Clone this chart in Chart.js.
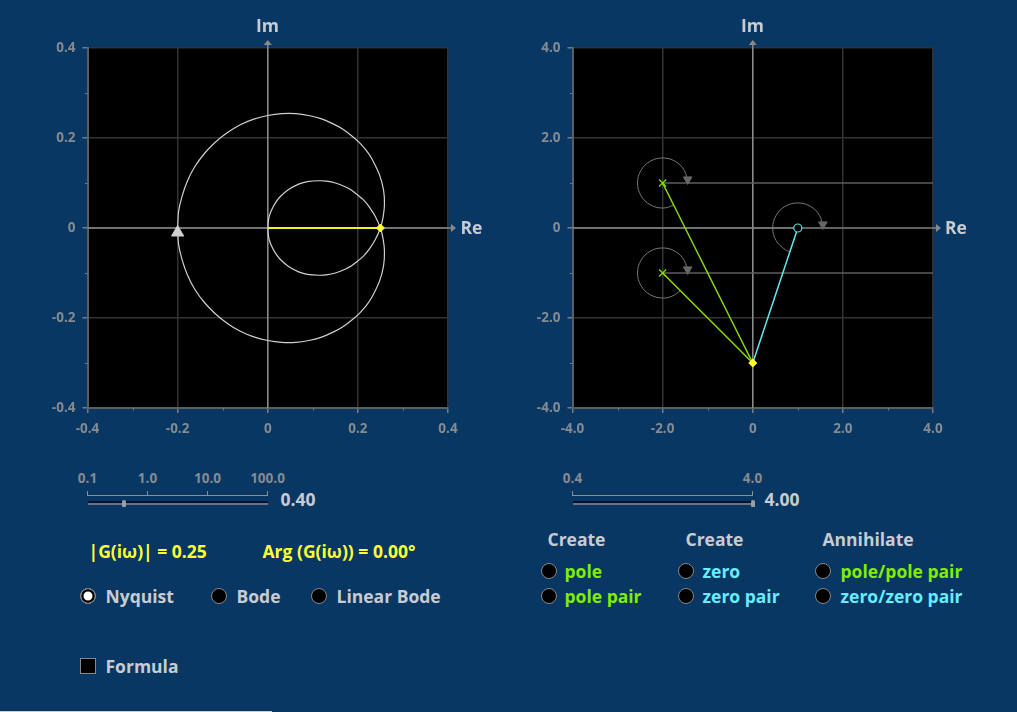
<!DOCTYPE html>
<html><head><meta charset="utf-8">
<script src="https://cdn.jsdelivr.net/npm/chart.js@4/dist/chart.umd.min.js"></script>
<style>
html,body{margin:0;padding:0;width:1017px;height:712px;overflow:hidden;background:#083763;font-family:"Open Sans",sans-serif;font-weight:700}
.t{position:absolute;white-space:nowrap;line-height:1;transform:translateY(-50%)}
.c{transform:translate(-50%,-50%)}
.lab{font-size:17.5px;color:#c8ccd2}
.sm{font-size:13.5px;color:#868b92}
.val{font-size:17.5px;color:#c8ccd2}
.yl{font-size:17.5px;color:#ffff33}
.gr{color:#80ee00}.cy{color:#66eeff}
.box{position:absolute}
.radio{position:absolute;width:14px;height:14px;margin:-8px 0 0 -8px;border:1px solid #888;border-radius:50%;background:#000}
.radio.on{background:#fff;box-shadow:inset 0 0 0 2.5px #000}
canvas{position:absolute}
</style></head><body>
<canvas id="left" style="left:40px;top:20px;width:440px;height:420px" width="440" height="420"></canvas>
<canvas id="right" style="left:525px;top:20px;width:440px;height:420px" width="440" height="420"></canvas>
<div id="ui"></div>
<script>
const nyquistUpper=[[-0.2,0],[-0.198,0.036],[-0.19,0.071],[-0.178,0.105],[-0.162,0.136],[-0.141,0.165],[-0.117,0.19],[-0.091,0.211],[-0.062,0.229],[-0.031,0.242],[0,0.25],[0.031,0.254],[0.062,0.254],[0.091,0.25],[0.118,0.243],[0.144,0.232],[0.166,0.22],[0.186,0.205],[0.204,0.189],[0.219,0.172],[0.231,0.154],[0.248,0.118],[0.257,0.084],[0.259,0.052],[0.256,0.024],[0.25,0],[0.239,-0.025],[0.226,-0.046],[0.213,-0.062],[0.199,-0.074],[0.186,-0.084],[0.173,-0.091],[0.15,-0.1],[0.13,-0.104],[0.114,-0.105],[0.088,-0.103],[0.07,-0.098],[0.047,-0.086],[0.028,-0.07],[0.017,-0.056],[0.008,-0.039],[0.003,-0.025],[0.001,-0.012],[0,0]];
const nyquistLower=[[-0.2,0],[-0.198,-0.036],[-0.19,-0.071],[-0.178,-0.105],[-0.162,-0.136],[-0.141,-0.165],[-0.117,-0.19],[-0.091,-0.211],[-0.062,-0.229],[-0.031,-0.242],[0,-0.25],[0.031,-0.254],[0.062,-0.254],[0.091,-0.25],[0.118,-0.243],[0.144,-0.232],[0.166,-0.22],[0.186,-0.205],[0.204,-0.189],[0.219,-0.172],[0.231,-0.154],[0.248,-0.118],[0.257,-0.084],[0.259,-0.052],[0.256,-0.024],[0.25,0],[0.239,0.025],[0.226,0.046],[0.213,0.062],[0.199,0.074],[0.186,0.084],[0.173,0.091],[0.15,0.1],[0.13,0.104],[0.114,0.105],[0.088,0.103],[0.07,0.098],[0.047,0.086],[0.028,0.07],[0.017,0.056],[0.008,0.039],[0.003,0.025],[0.001,0.012],[0,0]];
const gainSegment=[[0,0],[0.25,0]];
const startArrow=[[-0.2,-0.01]];
const currentLeft=[[0.25,0]];
const poles=[[-2,1],[-2,-1]];
const zeros=[[1,0]];
const currentRight=[[0,-3]];
const poleLine1=[[-2,1],[0,-3]];
const poleLine2=[[-2,-1],[0,-3]];
const zeroLine=[[1,0],[0,-3]];
const poleRef1=[[-2,1],[4,1]];
const poleRef2=[[-2,-1],[4,-1]];
const zeroRef=[[1,0],[4,0]];
const poleArc1=[[-1.748,0.505],[-2,0.444],[-2.278,0.518],[-2.482,0.722],[-2.556,1],[-2.482,1.278],[-2.278,1.482],[-2,1.556],[-1.722,1.482],[-1.518,1.278],[-1.444,1]];
const poleArc2=[[-1.607,-1.393],[-1.783,-1.512],[-2,-1.556],[-2.278,-1.482],[-2.482,-1.278],[-2.556,-1],[-2.482,-0.722],[-2.278,-0.518],[-2,-0.444],[-1.722,-0.518],[-1.518,-0.722],[-1.444,-1]];
const zeroArc=[[0.824,-0.527],[0.722,-0.482],[0.518,-0.278],[0.444,0],[0.518,0.278],[0.722,0.482],[1,0.556],[1.278,0.482],[1.482,0.278],[1.556,0]];
const arcHeads=[[-1.444,1.08],[-1.444,-0.92],[1.556,0.08]];
const leftAxisTicks=[-0.4,-0.2,0,0.2,0.4];
const leftMinorTicks=[-0.3,-0.1,0.1,0.3];
const rightAxisTicks=[-4,-2,0,2,4];
const rightMinorTicks=[-3,-1,1,3];
const freqTicks=["0.1","1.0","10.0","100.0"];
const zoomTicks=["0.4","4.0"];

const pts=a=>a.map(p=>({x:p[0],y:p[1]}));
const line=(d,color,width,tension)=>({type:'scatter',data:pts(d),showLine:true,borderColor:color,borderWidth:width,pointRadius:0,tension:tension||0,fill:false});
const marker=(d,style,r,fill,stroke,rot,bw)=>({type:'scatter',data:pts(d),showLine:false,pointStyle:style,pointRadius:r,pointBackgroundColor:fill,pointBorderColor:stroke,pointBorderWidth:bw||1,pointRotation:rot||0});

const axisDecor={id:'axisDecor',
 beforeDraw(ch){const c=ch.ctx,A=ch.chartArea;c.save();c.fillStyle='#000';c.fillRect(A.left,A.top,A.right-A.left,A.bottom-A.top);c.restore();},
 beforeDatasetsDraw(ch,a,o){const c=ch.ctx,{x,y}=ch.scales,A=ch.chartArea;c.save();
  c.strokeStyle='#777c82';c.lineWidth=1;
  o.minor.forEach(v=>{const py=Math.round(y.getPixelForValue(v))+.5,px=Math.round(x.getPixelForValue(v))+.5;
   c.beginPath();c.moveTo(A.left-2.5,py);c.lineTo(A.left,py);c.moveTo(px,A.bottom);c.lineTo(px,A.bottom+2.5);c.stroke();});
  const x0=x.getPixelForValue(0),y0=y.getPixelForValue(0);
  c.strokeStyle='#8a8a8a';c.lineWidth=1.5;
  c.beginPath();c.moveTo(x0,A.bottom);c.lineTo(x0,A.top-3);c.moveTo(A.left,y0);c.lineTo(A.right+4,y0);c.stroke();
  c.fillStyle='#8a8a8a';
  c.beginPath();c.moveTo(x0,A.top-8);c.lineTo(x0-4,A.top-3);c.lineTo(x0+4,A.top-3);c.closePath();c.fill();
  c.beginPath();c.moveTo(A.right+8,y0);c.lineTo(A.right+3,y0-4);c.lineTo(A.right+3,y0+4);c.closePath();c.fill();
  c.restore();}};

function make(id,range,major,minor,datasets,fmt){
 const axis=(pos)=>({type:'linear',position:pos,min:-range,max:range,
  afterBuildTicks(s){s.ticks=major.map(v=>({value:v}));},
  afterFit(s){if(pos==='left')s.width=47.5;else s.height=32;},
  ticks:{color:'#868b92',font:{family:'"Open Sans"',size:13.5,weight:'700'},padding:pos==='left'?7:8,maxRotation:0,autoSkip:false,callback:fmt},
  grid:{color:'#333',lineWidth:1.5,tickColor:'#777c82',tickLength:5,drawTicks:true},
  border:{color:'#5a5f64',width:2}});
 return new Chart(document.getElementById(id),{type:'scatter',data:{datasets},plugins:[axisDecor],
  options:{responsive:false,animation:false,devicePixelRatio:1,
   layout:{padding:{top:28,right:32,left:0,bottom:0}},
   plugins:{legend:{display:false},tooltip:{enabled:false},axisDecor:{minor},title:{display:false}},
   scales:{x:axis('bottom'),y:axis('left')}}});
}
Chart.defaults.font.family='"Open Sans"';
const fmt=v=>v===0?'0':v.toFixed(1);
make('left',0.4,leftAxisTicks,leftMinorTicks,[
 marker(startArrow,'triangle',7,'#cfcfcf','#cfcfcf'),
 marker(currentLeft,'rectRot',4,'#ffff33','#ffff33'),
 line(gainSegment,'#f2f222',2),
 line(nyquistUpper,'#d0d0d0',1.2,0.2),
 line(nyquistLower,'#d0d0d0',1.2,0.2)
],fmt);
make('right',4,rightAxisTicks,rightMinorTicks,[
 marker(currentRight,'rectRot',4,'#ffff33','#ffff33'),
 marker(poles,'crossRot',5,'#88dd00','#88dd00',0,1.2),
 marker(zeros,'circle',4,'#000','#55dde6',0,1.2),
 marker(arcHeads,'triangle',5,'#666','#666',180),
 line(poleLine1,'#88dd00',1.5),
 line(poleLine2,'#88dd00',1.5),
 line(zeroLine,'#66e6f0',1.5),
 line(poleArc1,'#777',1,0.4),
 line(poleArc2,'#777',1,0.4),
 line(zeroArc,'#777',1,0.4),
 line(poleRef1,'#5c5c5c',1.5),
 line(poleRef2,'#5c5c5c',1.5),
 line(zeroRef,'#5c5c5c',1.5)
],fmt);

const ui=document.getElementById('ui');
function text(s,x,y,cls,center){const d=document.createElement('div');d.className='t '+cls+(center?' c':'');d.textContent=s;d.style.left=x+'px';d.style.top=y+'px';ui.appendChild(d);}
function box(x,y,w,h,bg){const d=document.createElement('div');d.className='box';Object.assign(d.style,{left:x+'px',top:y+'px',width:w+'px',height:h+'px',background:bg});ui.appendChild(d);return d;}
function radio(x,y,on){const d=document.createElement('div');d.className='radio'+(on?' on':'');d.style.left=x+'px';d.style.top=y+'px';ui.appendChild(d);}
function slider(labels,xs,thumb){
 labels.forEach((l,i)=>{text(l,xs[i],478.5,'sm',true);box(xs[i]-.5,491,1,5,'#8a8f96');});
 box(xs[0],495,xs[xs.length-1]-xs[0],1,'#8a8f96');
 box(xs[0],501,xs[xs.length-1]-xs[0],2,'#001030');
 box(xs[0],503,xs[xs.length-1]-xs[0],1.5,'#6d7480');
 box(thumb-2,499.5,4,7,'#9a9fa6').style.borderRadius='2px 2px 1px 1px';
}
text('Im',267.5,26,'lab',true);text('Re',471.5,228,'lab',true);
text('Im',752.5,26,'lab',true);text('Re',956,228,'lab',true);
slider(freqTicks,[87.5,147.5,207.5,267.5],124.3);
text('0.40',280.5,500,'val');
slider(zoomTicks,[572.5,752.5],752.5);
text('4.00',764.5,500,'val');
text('|G(iω)| = 0.25',88.5,552,'yl');
text('Arg (G(iω)) = 0.00°',262.5,552,'yl');
radio(88,596,true);text('Nyquist',105.5,596.5,'lab');
radio(219,596);text('Bode',236.5,596.5,'lab');
radio(319,596);text('Linear Bode',336.5,596.5,'lab');
box(80,658,14,14,'#000').style.border='1px solid #888';
text('Formula',105.5,666.5,'lab');
text('Create',547.5,540,'lab');text('Create',685.5,540,'lab');text('Annihilate',822.5,540,'lab');
radio(548.5,570.5);text('pole',564.5,571.5,'lab gr');
radio(548.5,595.5);text('pole pair',564.5,596.5,'lab gr');
radio(685.5,570.5);text('zero',702.5,571.5,'lab cy');
radio(685.5,595.5);text('zero pair',702.5,596.5,'lab cy');
radio(822.5,570.5);text('pole/pole pair',840.5,571.5,'lab gr');
radio(822.5,595.5);text('zero/zero pair',840.5,596.5,'lab cy');
box(0,711,272,1,'#c8ccd2');
</script>
</body></html>
